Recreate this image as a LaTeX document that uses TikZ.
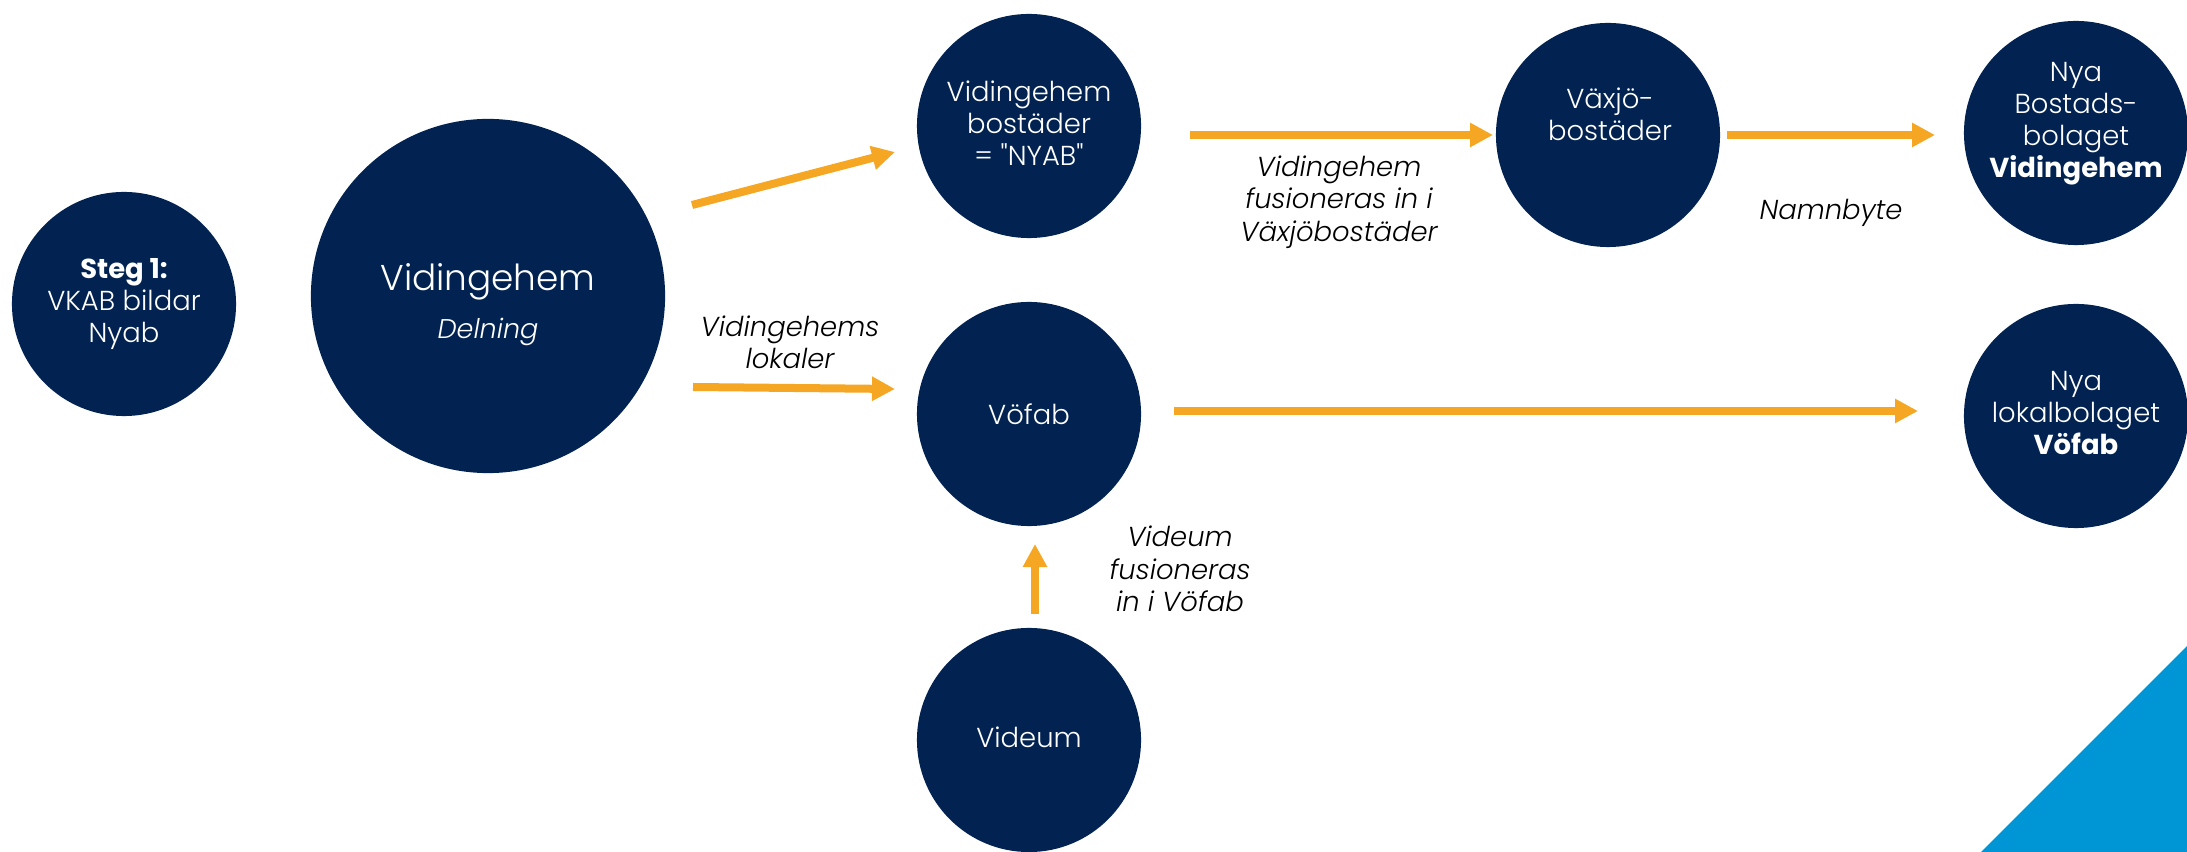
\documentclass[tikz,border=0pt]{standalone}
\usepackage{fontspec}
\setmainfont{Poppins}[Ligatures=TeXOff, UprightFont={* Light}, ItalicFont={* Light Italic}, BoldFont={* Bold}]
\usetikzlibrary{arrows.meta}
\definecolor{navy}{RGB}{2,35,81}
\definecolor{orangec}{RGB}{245,166,35}
\definecolor{bluetri}{RGB}{0,149,212}
\tikzset{
  blob/.style={circle, fill=navy, text=white, inner sep=0pt, minimum size=2.24cm},
  blobtext/.style={text=white, align=center, inner sep=0pt, font=\fontsize{7.8}{9.1}\selectfont},
  lbl/.style={text=black, align=center, inner sep=0pt, font=\fontsize{7.8}{9.2}\selectfont\itshape},
  arr/.style={draw=orangec, line width=0.08cm, -{Triangle[length=0.23cm,width=0.23cm]}}
}
\begin{document}
\begin{tikzpicture}[x=0.01cm,y=-0.01cm]
\useasboundingbox (0,0) rectangle (2187,852);
% background triangle
\fill[bluetri] (2187,646) -- (2187,852) -- (1981,852) -- cycle;
% circles
\node[blob] (steg) at (124,304) {};
\node[blob, minimum size=3.54cm] (vid) at (488,296) {};
\node[blob] (bost) at (1029,126) {};
\node[blob] (vaxjo) at (1608,135) {};
\node[blob] (nyab) at (2076,133) {};
\node[blob] (nyal) at (2076,416) {};
\node[blob] (vofab) at (1029,414) {};
\node[blob] (videum) at (1029,740) {};
% circle texts
\node[blobtext] (tsteg) at (124,304) {\textbf{Steg 1:}\\VKAB bildar\\Nyab};
\node[blobtext, font=\fontsize{10.2}{12}\selectfont] (tvid) at (488,282) {Vidingehem};
\node[blobtext, font=\fontsize{7.7}{9}\selectfont\itshape] (tdel) at (488,332) {Delning};
\node[blobtext] (tbost) at (1029,123) {Vidingehem\\bostäder\\= "NYAB"};
\node[blobtext] (tvax) at (1610,114) {Växjö-\\bostäder};
\node[blobtext] (tnyab) at (2076,124) {Nya\\Bostads-\\bolaget\\\textbf{Vidingehem}};
\node[blobtext] (tnyal) at (2076,413) {Nya\\lokalbolaget\\\textbf{Vöfab}};
\node[blobtext] (tvofab) at (1029,414) {Vöfab};
\node[blobtext] (tvideum) at (1029,737) {Videum};
% labels
\node[lbl] (l1) at (790,342) {Vidingehems\\lokaler};
\node[lbl] (l2) at (1339,202) {Vidingehem\\fusioneras in i\\Växjöbostäder};
\node[lbl] (l3) at (1831,213) {Namnbyte};
\node[lbl] (l4) at (1180,569) {Videum\\fusioneras\\in i Vöfab};
% arrow end points
\coordinate (a1s) at (692,205);
\coordinate (a1e) at (895,152);
\coordinate (a2s) at (693,387);
\coordinate (a2e) at (895,389);
\coordinate (a3s) at (1190,135);
\coordinate (a3e) at (1493,135);
\coordinate (a4s) at (1727,135);
\coordinate (a4e) at (1935,135);
\coordinate (a5s) at (1174,411);
\coordinate (a5e) at (1918,411);
\coordinate (a6s) at (1035,614);
\coordinate (a6e) at (1035,544);
% arrows
\draw[arr] (a1s) -- (a1e);
\draw[arr] (a2s) -- (a2e);
\draw[arr] (a3s) -- (a3e);
\draw[arr] (a4s) -- (a4e);
\draw[arr] (a5s) -- (a5e);
\draw[arr] (a6s) -- (a6e);
\end{tikzpicture}
\end{document}
